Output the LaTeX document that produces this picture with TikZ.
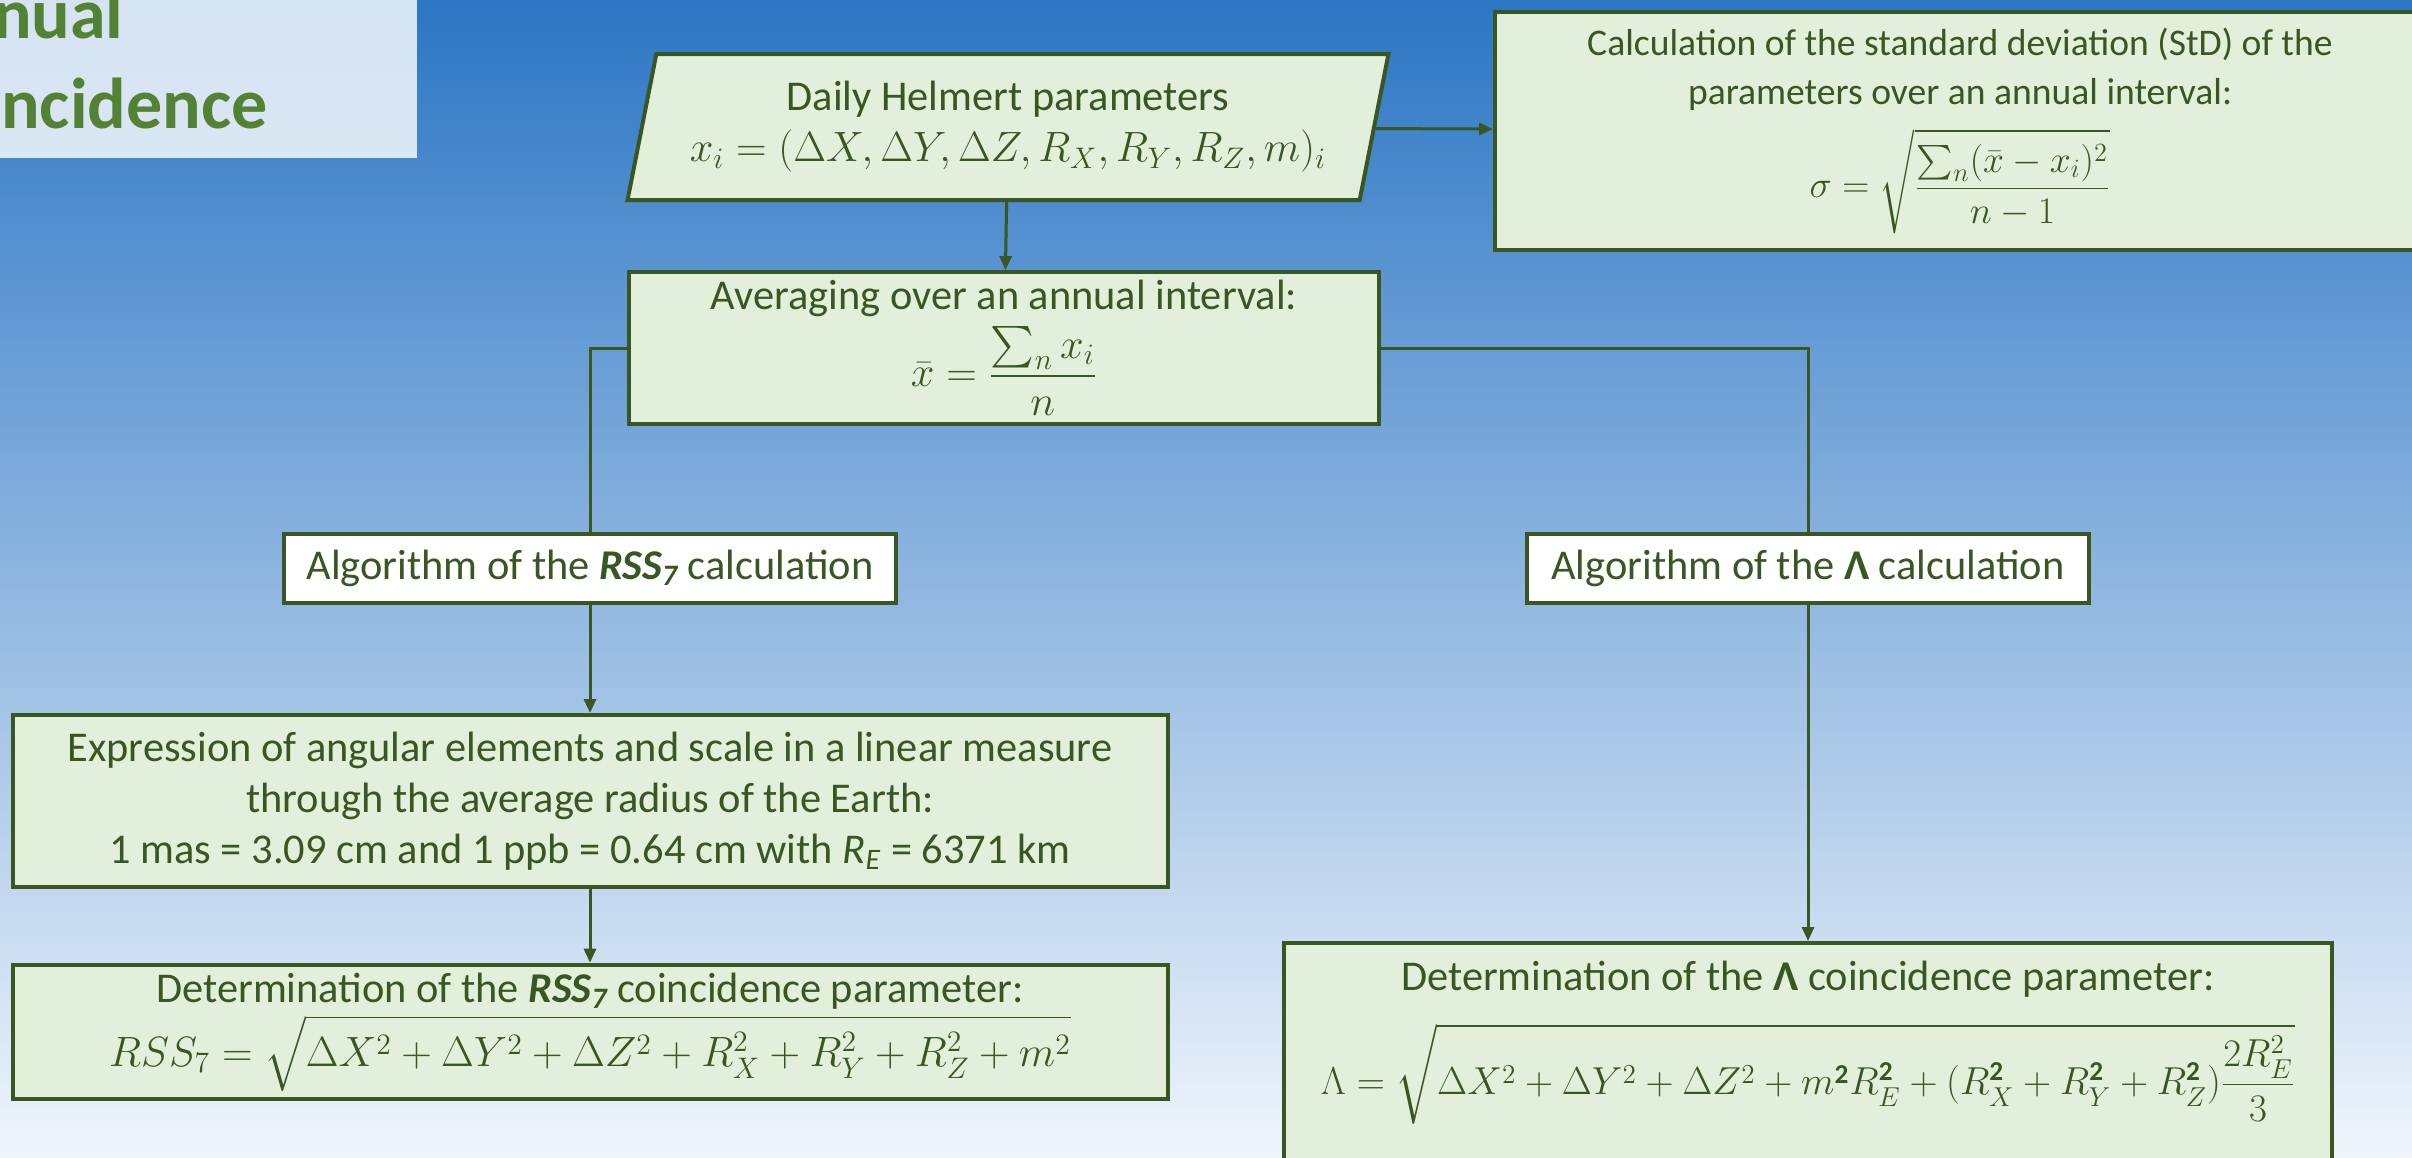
\RequirePackage{fix-cm}
\documentclass[tikz,border=0pt]{standalone}
\usepackage{amsmath}
\usepackage{fontspec}
\setmainfont{Carlito}
\usetikzlibrary{arrows.meta, positioning, shapes.geometric}

\definecolor{boxfill}{RGB}{226,239,218}
\definecolor{boxline}{RGB}{56,87,35}
\definecolor{titlegreen}{RGB}{84,130,53}
\definecolor{bgtop}{RGB}{44,118,196}
\definecolor{bgmid}{RGB}{168,200,234}
\definecolor{bgbot}{RGB}{240,245,252}

\begin{document}
\begin{tikzpicture}[x=0.5pt, y=-0.5pt,
    box/.style={draw=boxline, line width=2pt, fill=boxfill, text=boxline, align=center,
      font=\fontsize{21.2}{25.5}\selectfont, inner sep=4pt},
    stdbox/.style={box, font=\fontsize{18.8}{24.5}\selectfont},
    algbox/.style={box, fill=white},
    link/.style={draw=boxline, line width=1.5pt},
    arr/.style={link, -{Triangle[length=7pt, width=6pt]}},
    ttl/.style={anchor=base east, inner sep=0pt, text=titlegreen, font=\fontsize{36}{40}\selectfont\bfseries}]

    \useasboundingbox (0,0) rectangle (2412,1157);
    \clip (0,0) rectangle (2412,1157);
    \shade[top color=bgtop, middle color=bgmid, bottom color=bgbot] (0,0) rectangle (2412,1157);

    % title panel, cut by the slide edge
    \fill[white, opacity=0.8] (0,0) rectangle (417,158);
    \node[ttl] (ttlA) at (124,38) {nual};
    \node[ttl] (ttlB) at (268,128) {ncidence};

    \node[box, trapezium, trapezium left angle=76, trapezium right angle=104, trapezium stretches=true,
      minimum width=382pt, minimum height=73pt] (par) at (1008,127)
      {Daily Helmert parameters\\ $x_i = (\Delta X, \Delta Y, \Delta Z, R_X, R_Y, R_Z, m)_i$};
    \node[stdbox, minimum width=465pt, minimum height=119pt] (std) at (1960,131)
      {Calculation of the standard deviation (StD) of the\\ parameters over an annual interval:\\[8pt]
       $\displaystyle \sigma = \sqrt{\frac{\sum_n(\bar{x} - x_i)^2}{n-1}}$};
    \node[box, minimum width=375pt, minimum height=71.5pt] (avg) at (1004,348)
      {Averaging over an annual interval:\\[4pt] $\displaystyle \bar{x} = \frac{\sum_n x_i}{n}$};

    \node[algbox, minimum width=306pt, minimum height=34.5pt] (rssalg) at (590,568)
      {Algorithm of the {\bfseries\itshape RSS\textsubscript{7}} calculation};
    \node[algbox, minimum width=281pt, minimum height=34.5pt] (lamalg) at (1808,568)
      {Algorithm of the \textbf{Λ} calculation};

    \node[box, minimum width=577.5pt, minimum height=86pt] (expr) at (590,801)
      {Expression of angular elements and scale in a linear measure\\
       through the average radius of the Earth:\\
       1 mas = 3.09 cm and 1 ppb = 0.64 cm with \textit{R}\textsubscript{\textit{E}} = 6371 km};
    \node[box, minimum width=577.5pt, minimum height=66pt] (rss) at (590,1032)
      {Determination of the {\bfseries\itshape RSS\textsubscript{7}} coincidence parameter:\\[2pt]
       $RSS_7 = \sqrt{\Delta X^2 + \Delta Y^2 + \Delta Z^2 + R_X^2 + R_Y^2 + R_Z^2 + m^2}$};
    \node[box, anchor=north, minimum width=524pt, inner ysep=9pt] (lam) at (1808,941)
      {Determination of the \textbf{Λ} coincidence parameter:\\[12pt]
       {\fontsize{19.5}{23}\selectfont
       $\displaystyle \Lambda = \sqrt{\Delta X^2 + \Delta Y^2 + \Delta Z^2 + m^{\mathbf{2}} R_E^{\mathbf{2}}
        + (R_X^{\mathbf{2}} + R_Y^{\mathbf{2}} + R_Z^{\mathbf{2}})\frac{2R_E^2}{3}}$}\\[30pt]};

    \draw[arr] (par) -- (std);
    \draw[arr] (par) -- (avg);
    \draw[link] (avg.west) -| (rssalg.north);
    \draw[link] (avg.east) -| (lamalg.north);
    \draw[arr] (rssalg) -- (expr);
    \draw[arr] (expr) -- (rss);
    \draw[arr] (lamalg) -- (lam);
\end{tikzpicture}
\end{document}
